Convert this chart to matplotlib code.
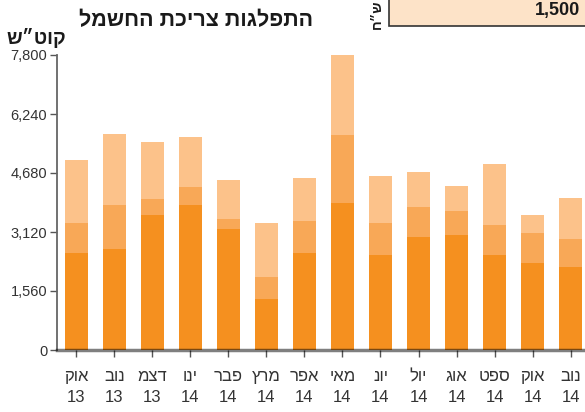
import matplotlib.pyplot as plt
from matplotlib.patches import Rectangle
import numpy as np

plt.rcParams['font.family'] = ['Liberation Sans', 'DejaVu Sans']

# monthly consumption (kWh), split in three stacked parts
months = ['אוק', 'נוב', 'דצמ', 'ינו', 'פבר', 'מרץ', 'אפר',
          'מאי', 'יונ', 'יול', 'אוג', 'ספט', 'אוק', 'נוב']
years = ['13', '13', '13', '14', '14', '14', '14',
         '14', '14', '14', '14', '14', '14', '14']
part1 = [2565, 2670, 3569, 3834, 3199, 1348, 2565, 3887, 2512, 2988, 3041, 2512, 2300, 2195]
part2 = [793, 1164, 423, 476, 265, 582, 846, 1798, 846, 793, 634, 793, 794, 740]
part3 = [1666, 1877, 1508, 1322, 1031, 1428, 1137, 2105, 1243, 925, 661, 1613, 475, 1084]
yticks = [0, 1560, 3120, 4680, 6240, 7800]

title = 'התפלגות צריכת החשמל'
ylabel = 'קוט״ש'
unit = 'ש״ח'
box_value = '1,500'


def rtl(s):
    # matplotlib has no bidi support, flip hebrew by hand
    return s[::-1]


W, H = 585, 412
fig = plt.figure(figsize=(W / 100, H / 100), dpi=100)
ax = fig.add_axes([57 / W, (H - 350) / H, (W - 57) / W, 295 / H])

x = np.arange(len(months))
p1 = np.array(part1)
p2 = np.array(part2)
p3 = np.array(part3)
ax.bar(x, p1, width=0.6, color='#f5901f', zorder=1)
ax.bar(x, p2, width=0.6, bottom=p1, color='#f8a857', zorder=1)
ax.bar(x, p3, width=0.6, bottom=p1 + p2, color='#fcc28a', zorder=1)

ax.set_xlim(-0.51, 13.38)
ax.set_ylim(0, 7800)
ax.set_yticks(yticks)
ax.set_yticklabels([f'{v:,}' for v in yticks], fontsize=10.5, color='#333333')
ax.set_xticks(x)
ax.set_xticklabels([f'{rtl(m)}\n{y}' for m, y in zip(months, years)],
                   fontsize=12, color='#333333', linespacing=1.45)

for s in ['top', 'right']:
    ax.spines[s].set_visible(False)
ax.spines['left'].set_color('#666666')
ax.spines['left'].set_linewidth(1.3)
ax.spines['bottom'].set_color((0, 0, 0, 0.5))
ax.spines['bottom'].set_linewidth(2.5)
ax.spines['bottom'].set_zorder(5)
ax.tick_params(axis='y', length=5, width=1, color='#555555', pad=2)
ax.tick_params(axis='x', length=5, width=1, color='#555555', pad=9)

fig.text(313 / W, (H - 21) / H, rtl(title), fontsize=15.5, fontweight='bold',
         ha='right', va='center', color='#1a1a1a')
fig.text(6 / W, (H - 38) / H, rtl(ylabel), fontsize=14, fontweight='bold',
         ha='left', va='center', color='#1a1a1a')

# piece of the box above (cut by the frame)
fig.patches.append(Rectangle((389 / W, (H - 26) / H), 210 / W, 40 / H,
                             transform=fig.transFigure, facecolor='#fde3c8',
                             edgecolor='#333333', linewidth=1.2))
fig.text(377 / W, (H - 29) / H, rtl(unit), fontsize=10, fontweight='bold',
         rotation=90, ha='center', va='bottom', color='#1a1a1a')
fig.text(580 / W, (H - 2) / H, box_value, fontsize=13, fontweight='bold',
         ha='right', va='top', color='#1a1a1a')

fig.savefig('out.png', dpi=100)
